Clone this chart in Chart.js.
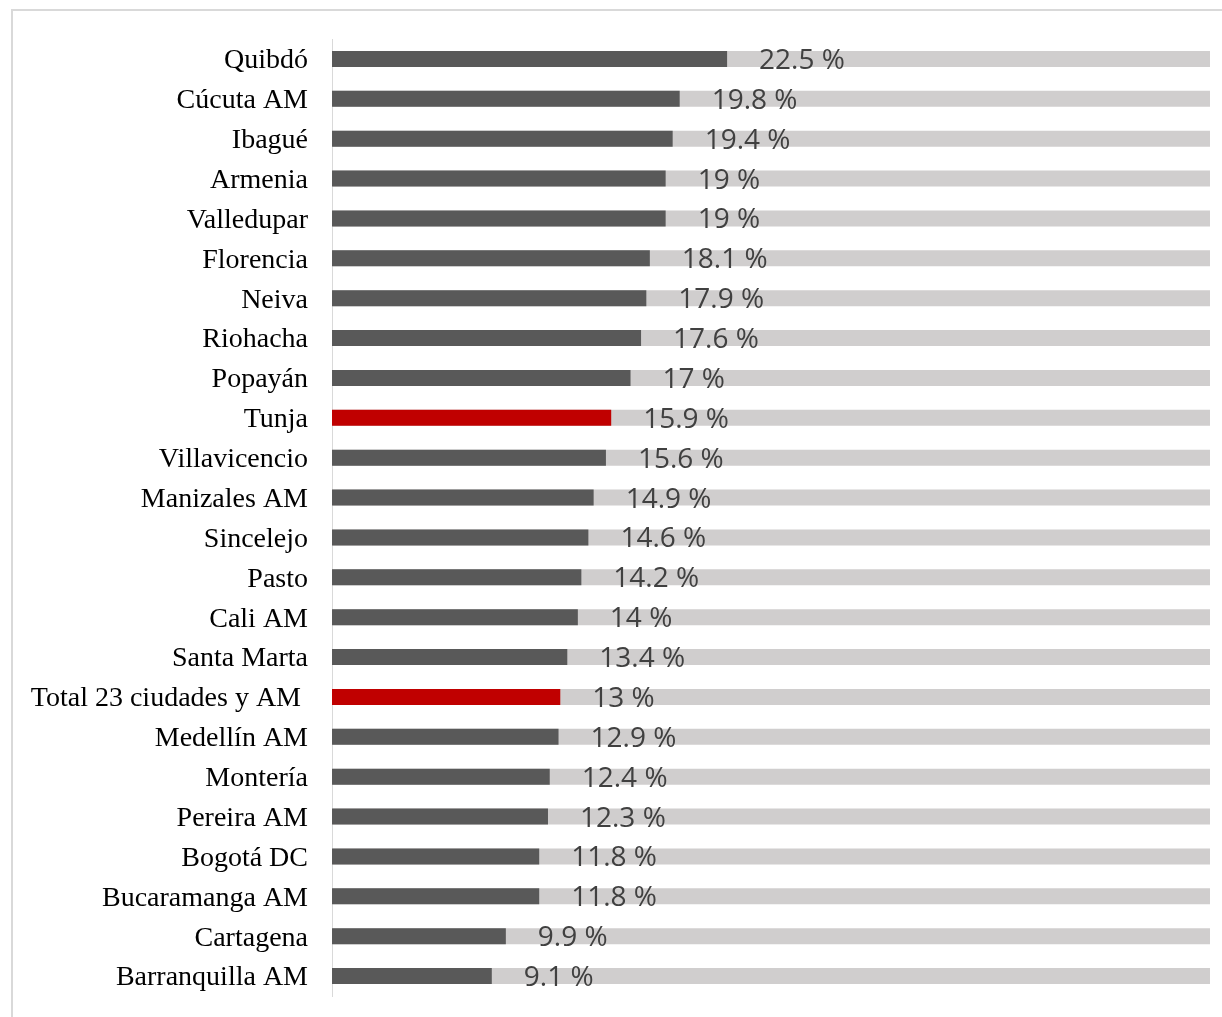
<!DOCTYPE html>
<html>
<head>
<meta charset="utf-8">
<script src="https://cdn.jsdelivr.net/npm/chart.js@4.4.0/dist/chart.umd.min.js"></script>
<style>
  html, body { margin: 0; padding: 0; background: #ffffff; }
  body { width: 1222px; height: 1017px; position: relative; overflow: hidden; }
  #frame { position: absolute; left: 11px; top: 9px; width: 1240px; height: 1040px; border: 2px solid #D9D9D9; box-sizing: border-box; }
  #wrap { position: absolute; left: 0; top: 0; width: 1222px; height: 1017px; }
</style>
</head>
<body>
<div id="frame"></div>
<div id="wrap"><canvas id="c" width="1222" height="1017"></canvas></div>
<script>
const categories = [
  "Quibdó", "Cúcuta AM", "Ibagué", "Armenia", "Valledupar", "Florencia", "Neiva",
  "Riohacha", "Popayán", "Tunja", "Villavicencio", "Manizales AM", "Sincelejo",
  "Pasto", "Cali AM", "Santa Marta", "Total 23 ciudades y AM ", "Medellín AM",
  "Montería", "Pereira AM", "Bogotá DC", "Bucaramanga AM", "Cartagena", "Barranquilla AM"
];
const values = [22.5, 19.8, 19.4, 19, 19, 18.1, 17.9, 17.6, 17, 15.9, 15.6, 14.9, 14.6,
  14.2, 14, 13.4, 13, 12.9, 12.4, 12.3, 11.8, 11.8, 9.9, 9.1];
const backgroundValues = [50, 50, 50, 50, 50, 50, 50, 50, 50, 50, 50, 50, 50,
  50, 50, 50, 50, 50, 50, 50, 50, 50, 50, 50];
const highlighted = ["Tunja", "Total 23 ciudades y AM "];
const axisMin = 0;
const axisMax = 50;

const barColors = categories.map(c => highlighted.includes(c) ? "#C00000" : "#595959");

const valueLabels = {
  id: "valueLabels",
  afterDatasetsDraw(chart) {
    const ctx = chart.ctx;
    const meta = chart.getDatasetMeta(0);
    ctx.save();
    ctx.font = "28px 'Open Sans'";
    ctx.fillStyle = "#404040";
    ctx.textAlign = "left";
    ctx.textBaseline = "middle";
    meta.data.forEach((bar, i) => {
      ctx.fillText(String(values[i]) + " %", bar.x + 32, bar.y + 2);
    });
    ctx.restore();
  }
};

new Chart(document.getElementById("c"), {
  type: "bar",
  data: {
    labels: categories,
    datasets: [
      { data: values, backgroundColor: barColors, barPercentage: 0.4, categoryPercentage: 1.0 },
      { data: backgroundValues, backgroundColor: "#D0CECE", barPercentage: 0.4, categoryPercentage: 1.0 }
    ]
  },
  options: {
    indexAxis: "y",
    responsive: false,
    animation: false,
    events: [],
    layout: { padding: { top: 39, bottom: 21, left: 0, right: 12 } },
    plugins: { legend: { display: false }, tooltip: { enabled: false } },
    scales: {
      x: { display: false, min: axisMin, max: axisMax, stacked: false },
      y: {
        stacked: true,
        grid: { display: false, drawTicks: false },
        border: { display: true, color: "#D9D9D9", width: 1 },
        ticks: { color: "#000000", padding: 24, labelOffset: 2, font: { family: "'Liberation Serif'", size: 28 } },
        afterFit(scale) { scale.width = 332; scale.paddingTop = 0; scale.paddingBottom = 0; }
      }
    }
  },
  plugins: [valueLabels]
});
</script>
</body>
</html>
